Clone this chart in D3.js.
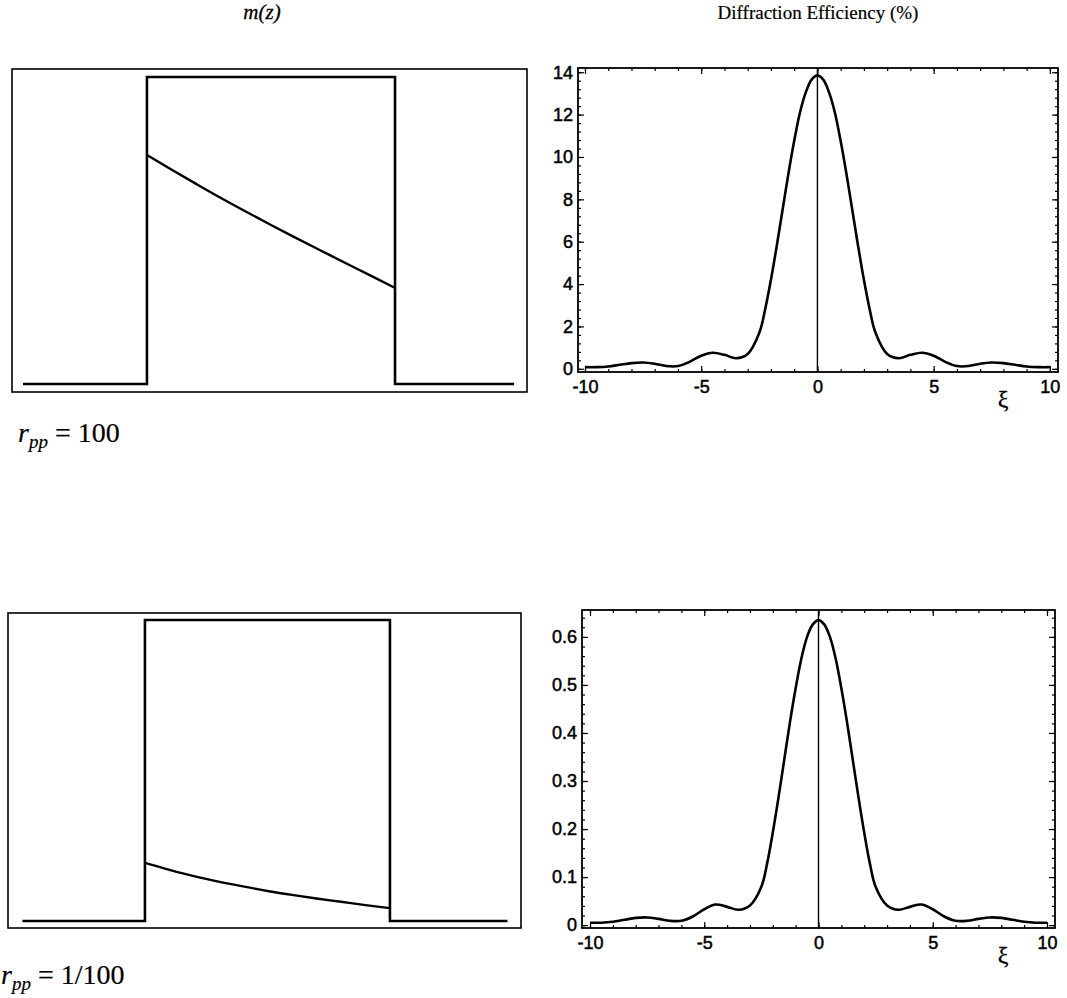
<!DOCTYPE html>
<html><head><meta charset="utf-8">
<script src="https://cdn.jsdelivr.net/npm/d3@7"></script>
<style>body{margin:0;background:#fff}svg{display:block}</style>
</head><body>
<svg id="chart" width="1067" height="998"></svg>
<script>
// ---------- data ----------
const xiValues = [-10,-9.5,-9,-8.5,-8,-7.5,-7,-6.5,-6,-5.5,-5,-4.5,-4,-3.5,-3,-2.5,-2.25,-2,-1.75,-1.5,-1.25,-1,-0.75,-0.5,-0.25,0,
                  0.25,0.5,0.75,1,1.25,1.5,1.75,2,2.25,2.5,3,3.5,4,4.5,5,5.5,6,6.5,7,7.5,8,8.5,9,9.5,10];
const effTop = [0.08,0.08,0.11,0.19,0.27,0.30,0.24,0.13,0.13,0.33,0.62,0.76,0.66,0.50,0.70,1.7,2.8,4.2,5.8,7.5,9.2,10.75,12.1,13.05,13.65,13.85,
                13.65,13.05,12.1,10.75,9.2,7.5,5.8,4.2,2.8,1.7,0.70,0.50,0.66,0.76,0.62,0.33,0.13,0.13,0.24,0.30,0.27,0.19,0.11,0.08,0.08];
const effBottom = [0.005,0.005,0.007,0.011,0.015,0.016,0.013,0.009,0.009,0.018,0.033,0.043,0.038,0.032,0.041,0.08,0.128,0.193,0.266,0.344,0.422,0.493,0.555,0.6,0.626,0.635,
                   0.626,0.6,0.555,0.493,0.422,0.344,0.266,0.193,0.128,0.08,0.041,0.032,0.038,0.043,0.033,0.018,0.009,0.009,0.013,0.016,0.015,0.011,0.007,0.005,0.005];
const xiTicks = [-10,-5,0,5,10];
const xiMinorTicks = [-10,-9,-8,-7,-6,-5,-4,-3,-2,-1,0,1,2,3,4,5,6,7,8,9,10];
const yTicksTop = [0,2,4,6,8,10,12,14];
const yTicksBottom = [0,0.1,0.2,0.3,0.4,0.5,0.6];

const stepZ = [-0.5,0,0,1,1,1.48];
const stepM = [0,0,1,1,0,0];
const curveZ = [0,0.1,0.2,0.3,0.4,0.5,0.6,0.7,0.8,0.9,1];
const mTop = [0.746,0.698,0.651,0.605,0.561,0.518,0.476,0.435,0.394,0.354,0.313];
const mBottom = [0.193,0.170,0.149,0.131,0.115,0.100,0.087,0.075,0.064,0.053,0.043];

const colTitles = ["m(z)","Diffraction Efficiency (%)"];
const rowLabels = ["100","1/100"];

// ---------- drawing ----------
const svg = d3.select("#chart");
svg.append("rect").attr("width",1067).attr("height",998).attr("fill","#fff");

const serif = "'Liberation Serif','Times New Roman',serif";
const sans = "'Liberation Sans',Arial,Helvetica,sans-serif";

// titles
svg.append("text").attr("x",262).attr("y",19).attr("text-anchor","middle")
  .attr("font-family",serif).attr("font-style","italic").attr("font-size",21)
  .attr("stroke","#000").attr("stroke-width",0.3).text(colTitles[0]);
svg.append("text").attr("x",818).attr("y",19).attr("text-anchor","middle")
  .attr("font-family",serif).attr("font-size",19)
  .attr("stroke","#000").attr("stroke-width",0.2).text(colTitles[1]);

function mPanel(px0,px1,py0,py1,zDom,mDom,curveVals){
  const x = d3.scaleLinear().domain(zDom).range([px0,px1]);
  const y = d3.scaleLinear().domain(mDom).range([py1,py0]);
  const g = svg.append("g");
  g.append("rect").attr("x",x(zDom[0])).attr("y",y(mDom[1]))
    .attr("width",x(zDom[1])-x(zDom[0])).attr("height",y(mDom[0])-y(mDom[1]))
    .attr("fill","none").attr("stroke","#000").attr("stroke-width",1.6);
  const stepLine = d3.line().x((d,i)=>x(stepZ[i])).y((d,i)=>y(stepM[i]));
  g.append("path").attr("d",stepLine(stepZ)).attr("fill","none").attr("stroke","#000").attr("stroke-width",2.6)
    .attr("stroke-linejoin","miter");
  const cl = d3.line().x((d,i)=>x(curveZ[i])).y((d,i)=>y(curveVals[i])).curve(d3.curveMonotoneX);
  g.append("path").attr("d",cl(curveZ)).attr("fill","none").attr("stroke","#000").attr("stroke-width",2.4);
}

mPanel(12,527,69,392,[-0.544,1.532],[-0.026,1.026],mTop);
mPanel(8,521,613,928,[-0.559,1.535],[-0.023,1.023],mBottom);

function rLabel(xp,yp,val){
  const t = svg.append("text").attr("x",xp).attr("y",yp).attr("font-family",serif).attr("font-size",28)
    .attr("stroke","#000").attr("stroke-width",0.2);
  t.append("tspan").attr("font-style","italic").text("r");
  t.append("tspan").attr("font-style","italic").attr("font-size",19).attr("dy",6).text("pp");
  t.append("tspan").attr("dy",-6).text(" = "+val);
}
rLabel(18,442,rowLabels[0]);
rLabel(1,984,rowLabels[1]);

function effPanel(px0,px1,py0,py1,xDom,yDom,yTicks,vals,fmt){
  const x = d3.scaleLinear().domain(xDom).range([px0,px1]);
  const y = d3.scaleLinear().domain(yDom).range([py1,py0]);
  const g = svg.append("g");
  const styleAxis = (sel,labels)=>{
    sel.select(".domain").remove();
    sel.selectAll("line").attr("stroke","#000").attr("stroke-width",1.2);
    sel.selectAll("text").attr("font-family",sans).attr("font-size",18).attr("fill","#000")
      .attr("stroke","#000").attr("stroke-width",0.5);
    if(!labels) sel.selectAll("text").remove();
  };
  // minor ticks
  const step = (yTicks[1]-yTicks[0])/5;
  const yMinor = d3.range(0, Math.round(yDom[1]/step)+1).map(k=>k*step).filter(v=>v<=yDom[1]);
  g.append("g").attr("transform",`translate(0,${py1})`).call(d3.axisBottom(x).tickValues(xiMinorTicks).tickSize(-3).tickFormat("")).call(s=>styleAxis(s,false));
  g.append("g").attr("transform",`translate(0,${py0})`).call(d3.axisTop(x).tickValues(xiMinorTicks).tickSize(-3).tickFormat("")).call(s=>styleAxis(s,false));
  g.append("g").attr("transform",`translate(${px0},0)`).call(d3.axisLeft(y).tickValues(yMinor).tickSize(-3).tickFormat("")).call(s=>styleAxis(s,false));
  g.append("g").attr("transform",`translate(${px1},0)`).call(d3.axisRight(y).tickValues(yMinor).tickSize(-3).tickFormat("")).call(s=>styleAxis(s,false));
  // major ticks
  g.append("g").attr("transform",`translate(0,${py1})`).call(d3.axisBottom(x).tickValues(xiTicks).tickSize(-6).tickPadding(8).tickFormat(d=>String(d))).call(s=>styleAxis(s,true));
  g.append("g").attr("transform",`translate(0,${py0})`).call(d3.axisTop(x).tickValues(xiTicks).tickSize(-6)).call(s=>styleAxis(s,false));
  g.append("g").attr("transform",`translate(${px0},0)`).call(d3.axisLeft(y).tickValues(yTicks).tickSize(-6).tickPadding(5).tickFormat(fmt)).call(s=>styleAxis(s,true));
  g.append("g").attr("transform",`translate(${px1},0)`).call(d3.axisRight(y).tickValues(yTicks).tickSize(-6)).call(s=>styleAxis(s,false));
  // frame
  g.append("rect").attr("x",px0).attr("y",py0).attr("width",px1-px0).attr("height",py1-py0)
    .attr("fill","none").attr("stroke","#000").attr("stroke-width",1.8);
  // zero line
  g.append("line").attr("x1",x(0)).attr("x2",x(0)).attr("y1",py1).attr("y2",py0).attr("stroke","#000").attr("stroke-width",1.4);
  // curve
  const line = d3.line().x((d,i)=>x(xiValues[i])).y((d,i)=>y(vals[i])).curve(d3.curveCatmullRom.alpha(0.5));
  g.append("path").attr("d",line(xiValues)).attr("fill","none").attr("stroke","#000").attr("stroke-width",2.6);
  // xi label
  g.append("text").attr("x",1003).attr("y",py1+35).attr("text-anchor","middle")
    .attr("font-family",serif).attr("font-size",24).attr("stroke","#000").attr("stroke-width",0.3).text("ξ");
}

effPanel(578,1058,68,372,[-10.3,10.35],[-0.15,14.2],yTicksTop,effTop,d=>String(d));
effPanel(582,1055,610,928,[-10.35,10.35],[-0.006,0.656],yTicksBottom,effBottom,d=>d===0?"0":String(d));
</script>
</body></html>
